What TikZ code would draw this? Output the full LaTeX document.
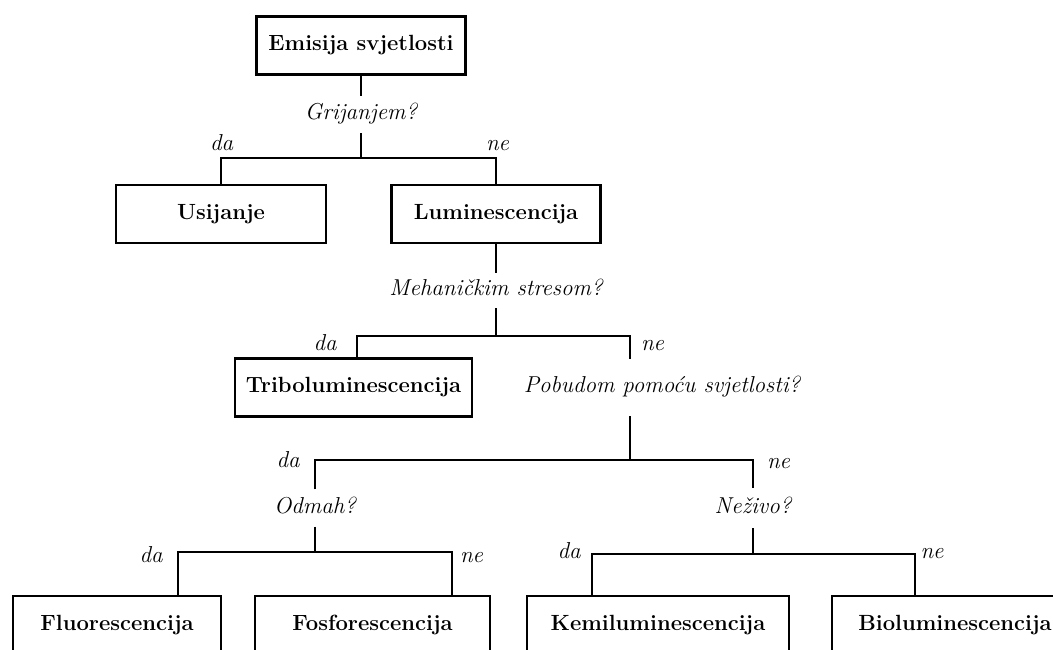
\documentclass[tikz,border=0pt]{standalone}
\usepackage{tikz}
\usetikzlibrary{calc}

\newcommand\velik{\fontsize{22}{26}\selectfont}
\newcommand\kosi{\fontsize{23}{27}\selectfont}

\tikzset{
  odluka/.style={draw, line width=2.2pt, font=\velik\bfseries, minimum height=58pt,
    inner xsep=4pt, text height=15pt, text depth=5pt},
  pitanje/.style={font=\kosi\itshape, text height=16pt, text depth=5.5pt,
    inner ysep=7.75pt, inner xsep=2pt},
  odgovor/.style={font=\kosi\itshape, anchor=base, inner sep=0pt},
  grana/.style={line width=1.5pt}
}

\begin{document}
\begin{tikzpicture}[x=1pt, y=-1pt]
      \useasboundingbox (0,0) rectangle (1053,649);
      % kutije
      \node[odluka, minimum width=209pt] (emisija) at (361,45.5) {Emisija svjetlosti};
      \node[odluka, minimum width=210pt] (usijanje) at (221,214) {Usijanje};
      \node[odluka, minimum width=209pt] (lum) at (496,214) {Luminescencija};
      \node[odluka, minimum width=237pt] (tribo) at (353.5,387.5) {Triboluminescencija};
      \node[odluka, minimum width=208pt] (fluo) at (117,625) {Fluorescencija};
      \node[odluka, minimum width=235pt] (fosf) at (372.5,625) {Fosforescencija};
      \node[odluka, minimum width=262pt] (kemi) at (658,625) {Kemiluminescencija};
      \node[odluka, minimum width=246pt] (bio) at (955,625) {Bioluminescencija};
      % pitanja
      \node[pitanje] (grijanjem) at (361,114.5) {Grijanjem?};
      \node[pitanje, inner ysep=6.75pt] (meh) at (496,290.5) {Mehaničkim stresom?};
      \node[pitanje, inner ysep=17.75pt] (pobuda) at (662,387.5) {Pobudom pomoću svjetlosti?};
      \node[pitanje] (odmah) at (315,508) {Odmah?};
      \node[pitanje, inner ysep=9.25pt] (nezivo) at (753,508) {Neživo?};
      % grananja
      \coordinate (g1) at (361,158);
      \coordinate (l2) at (357,336);
      \coordinate (r2) at (630,336);
      \coordinate (g3) at (630,460);
      \coordinate (l4) at (178,552);
      \coordinate (r4) at (452,552);
      \coordinate (l5) at (592,554);
      \coordinate (r5) at (915,554);
      \draw[grana] (emisija.south) -- (grijanjem.north);
      \draw[grana] (grijanjem.south) -- (g1);
      \draw[grana] (usijanje.north) |- (g1) -| (lum.north);
      \draw[grana] (lum.south) -- (meh.north);
      \draw[grana] (meh.south) -- (meh.south |- l2);
      \draw[grana] (l2 |- tribo.north) -- (l2) -- (r2) -- (r2 |- pobuda.north);
      \draw[grana] (g3 |- pobuda.south) -- (g3);
      \draw[grana] (odmah.north) |- (g3) -| (nezivo.north);
      \draw[grana] (odmah.south) -- (odmah.south |- l4);
      \draw[grana] (l4 |- fluo.north) -- (l4) -- (r4) -- (r4 |- fosf.north);
      \draw[grana] (nezivo.south) -- (nezivo.south |- l5);
      \draw[grana] (l5 |- kemi.north) -- (l5) -- (r5) -- (r5 |- bio.north);
      % odgovori
      \node[odgovor] (da1) at (221.5,150) {da};
      \node[odgovor] (ne1) at (497.5,150) {ne};
      \node[odgovor] (da2) at (325,350) {da};
      \node[odgovor] (ne2) at (652.5,350) {ne};
      \node[odgovor] (da3) at (288,467) {da};
      \node[odgovor] (ne3) at (778.5,468) {ne};
      \node[odgovor] (da4) at (151,562) {da};
      \node[odgovor] (ne4) at (471.5,562) {ne};
      \node[odgovor] (da5) at (569,558) {da};
      \node[odgovor] (ne5) at (932,558) {ne};
\end{tikzpicture}
\end{document}
